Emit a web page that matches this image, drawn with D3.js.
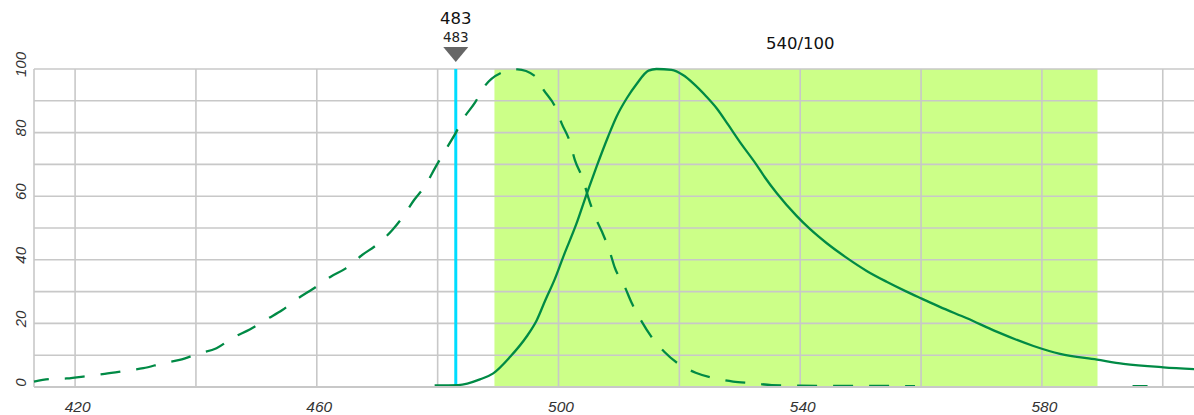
<!DOCTYPE html>
<html><head><meta charset="utf-8">
<script src="https://cdn.jsdelivr.net/npm/d3@7"></script>
<style>html,body{margin:0;padding:0;background:#fff;}svg{display:block;}</style>
</head><body>
<svg id="c" width="1194" height="415"></svg>
<script>
const excitation = [[413.2,1.7],[415.8,2.5],[418.6,2.7],[422.2,3.5],[424.9,4.1],[428.5,5.1],[431.3,5.9],[434.6,7.5],[437.3,8.5],[440.6,10.6],[443.4,12.2],[446.2,15.6],[448.9,18.1],[451.8,21.4],[454.3,24.2],[457,28],[459.4,30.9],[462.3,34.7],[464.8,37.3],[467.5,41.5],[469.9,44.7],[472.5,49.4],[474.2,53.4],[476.1,58.8],[478,63.5],[479.6,69],[481,73.6],[482.9,79.6],[484.2,84.2],[486.2,89.5],[487.7,94.4],[490.3,98.6],[493.2,99.9],[496.1,97.8],[497.5,93.5],[499.6,87.5],[500.5,83],[501.9,77],[502.7,71.4],[504,65.6],[504.9,59.8],[506,53.8],[507.2,48.8],[508.5,42.5],[509.3,37.6],[510.9,31.8],[512.1,26.5],[513.8,20.5],[515.3,16],[517.5,11.1],[519.7,7.5],[522.7,4.5],[525.5,2.9],[528.9,1.7],[532,1.2],[535.3,0.6],[540,0.4],[559,0.3],[560,null],[594,null],[595,0.3],[599,0.3],[600,null]];
const emission = [[479.5,0.5],[483.4,0.6],[487,2.4],[489.2,4.3],[492,9.5],[494.7,15.8],[496.4,21],[497.8,27.2],[499.4,34],[500.8,41],[503,51.5],[504.7,60.9],[506.3,69.3],[508.2,78.7],[509.6,85],[511.3,90.8],[512.9,95.2],[514.9,99.5],[516.2,100],[518.7,99.7],[520.6,98.1],[522.3,95.5],[524.5,91.3],[526.2,87.6],[528.1,82.4],[530,77.1],[532.8,69.8],[534.2,65.8],[536.1,61],[539.4,53.8],[541.6,49.7],[544.4,45.2],[547.7,40.6],[551,36.5],[554.3,33.1],[557.6,30],[560.1,27.8],[563.1,25.2],[567.6,21.6],[572.5,17.4],[578.6,12.9],[583,10.4],[589.1,8.6],[593.5,7.3],[600.1,6.2],[605.5,5.6]];
const filterBand = [489.4, 589.2];
const filterLabel = "540/100";
const filterCenter = 540;
const laserLine = 483;
const laserLabel = "483";
const xTicks = [420,460,500,540,580];
const xGrid = [420,440,460,480,500,520,540,560,580,600];
const yTicks = [0,20,40,60,80,100];
const yGrid = [0,10,20,30,40,50,60,70,80,90,100];

const svg = d3.select("#c");
const x = d3.scaleLinear().domain([413.2, 605.5]).range([34, 1196]);
const y = d3.scaleLinear().domain([0, 100]).range([387, 69]);
const gridColor = "#c8c8c8";

svg.append("rect")
  .attr("x", x(filterBand[0])).attr("y", y(100))
  .attr("width", x(filterBand[1]) - x(filterBand[0]))
  .attr("height", y(0) - y(100))
  .attr("fill", "#ccff88");

svg.append("g").selectAll("line").data(xGrid).join("line")
  .attr("x1", d => x(d)).attr("x2", d => x(d))
  .attr("y1", y(100)).attr("y2", y(0))
  .attr("stroke", gridColor).attr("stroke-width", 1.6);
svg.append("line").attr("x1", x.range()[0]).attr("x2", x.range()[0])
  .attr("y1", y(100)).attr("y2", y(0)).attr("stroke", gridColor).attr("stroke-width", 1.6);
svg.append("g").selectAll("line").data(yGrid).join("line")
  .attr("x1", x.range()[0]).attr("x2", 1194)
  .attr("y1", d => y(d)).attr("y2", d => y(d))
  .attr("stroke", gridColor).attr("stroke-width", 1.6);

svg.append("line")
  .attr("x1", x(laserLine)).attr("x2", x(laserLine))
  .attr("y1", y(100)).attr("y2", y(0))
  .attr("stroke", "#00ddff").attr("stroke-width", 3);

const line = d3.line().defined(d => d[1] != null)
  .x(d => x(d[0])).y(d => y(d[1])).curve(d3.curveMonotoneX);
svg.append("path").datum(excitation).attr("d", line)
  .attr("fill", "none").attr("stroke", "#008a45").attr("stroke-width", 2.3)
  .attr("stroke-dasharray", "20,16").attr("stroke-dashoffset", 5);
svg.append("path").datum(emission).attr("d", line)
  .attr("fill", "none").attr("stroke", "#008a45").attr("stroke-width", 2.3);

svg.append("line").attr("x1", x.range()[0]).attr("x2", 1194)
  .attr("y1", y(0)).attr("y2", y(0)).attr("stroke", gridColor).attr("stroke-width", 2);

const xAxis = svg.append("g").attr("transform", `translate(0,${y(0)})`)
  .call(d3.axisBottom(x).tickValues(xTicks).tickSize(0).tickPadding(0).tickFormat(d3.format("d")));
xAxis.select(".domain").remove();
xAxis.selectAll("text")
  .attr("y", 24.5).attr("dy", 0).attr("dx", 2)
  .attr("font-family", "Liberation Sans, Arial, sans-serif")
  .attr("font-style", "italic").attr("font-size", 15.5).attr("fill", "#333");

const yAxis = svg.append("g").attr("transform", `translate(${x.range()[0]},0)`)
  .call(d3.axisLeft(y).tickValues(yTicks).tickSize(0).tickFormat(d3.format("d")));
yAxis.select(".domain").remove();
yAxis.selectAll(".tick text")
  .attr("x", 0).attr("dy", 0)
  .attr("transform", "translate(-14,-5) rotate(-90)")
  .attr("text-anchor", "middle").attr("dominant-baseline", "central")
  .attr("font-family", "Liberation Sans, Arial, sans-serif")
  .attr("font-style", "italic").attr("font-size", 15).attr("fill", "#333");

svg.append("text").attr("x", x(filterCenter)).attr("y", 49)
  .attr("text-anchor", "middle")
  .attr("font-family", "DejaVu Sans, sans-serif").attr("font-size", 16.5).attr("fill", "#111")
  .text(filterLabel);

svg.append("text").attr("x", x(laserLine)).attr("y", 24)
  .attr("text-anchor", "middle")
  .attr("font-family", "DejaVu Sans, sans-serif").attr("font-size", 16.5).attr("fill", "#111")
  .text(laserLabel);
svg.append("text").attr("x", x(laserLine)).attr("y", 41.5)
  .attr("text-anchor", "middle")
  .attr("font-family", "DejaVu Sans, sans-serif").attr("font-size", 13.5).attr("fill", "#222")
  .text(laserLabel);
const lx = x(laserLine);
svg.append("path")
  .attr("d", `M${lx-12.5},47 L${lx+12.5},47 L${lx},62 Z`)
  .attr("fill", "#666");
</script>
</body></html>
